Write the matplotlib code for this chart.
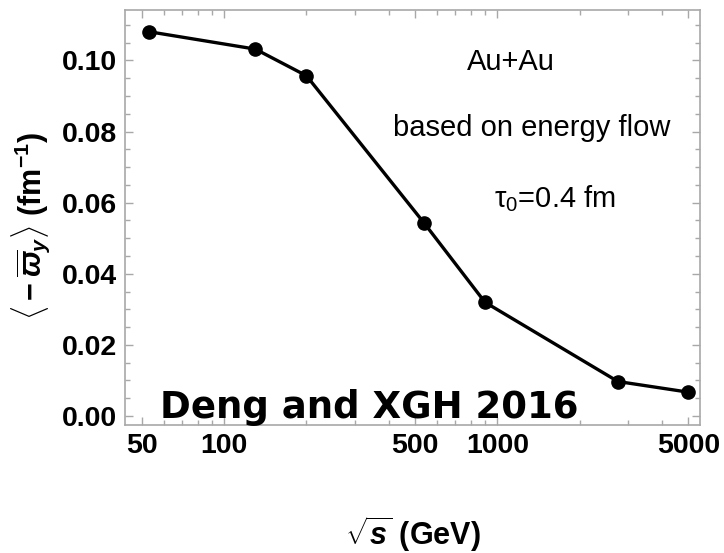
import numpy as np
import matplotlib
matplotlib.use("Agg")
import matplotlib.pyplot as plt
from matplotlib.ticker import FixedLocator, MultipleLocator, NullFormatter

# vorticity vs collision energy
sqrt_s = [53, 130, 200, 540, 900, 2760, 5000]
omega_y = [0.1081, 0.1032, 0.0957, 0.0542, 0.0320, 0.0097, 0.0067]

x_major = [50, 100, 500, 1000, 5000]
x_minor = [60, 70, 80, 90, 200, 300, 400, 600, 700, 800, 900, 2000, 3000, 4000]
y_major = [0.00, 0.02, 0.04, 0.06, 0.08, 0.10]
y_major_labels = ["0.00", "0.02", "0.04", "0.06", "0.08", "0.10"]

plt.rcParams['mathtext.fontset'] = 'custom'
plt.rcParams['mathtext.rm'] = 'Liberation Sans:bold'
plt.rcParams['mathtext.it'] = 'Liberation Sans:italic:bold'
plt.rcParams['mathtext.bf'] = 'Liberation Sans:bold'

sans = "Liberation Sans"
grey = "#a8a8a8"

fig = plt.figure(figsize=(7.24, 5.53), dpi=100)
ax = fig.add_axes([0.1733, 0.2315, 0.7942, 0.7504])

ax.plot(sqrt_s, omega_y, color="black", lw=2.4, marker="o", ms=9.5)

ax.set_xscale("log")
ax.set_xlim(43.5, 5535)
ax.set_ylim(-0.00253, 0.1142)

ax.xaxis.set_major_locator(FixedLocator(x_major))
ax.xaxis.set_minor_locator(FixedLocator(x_minor))
ax.xaxis.set_minor_formatter(NullFormatter())
ax.set_xticklabels([str(v) for v in x_major])
ax.set_yticks(y_major)
ax.set_yticklabels(y_major_labels)
ax.yaxis.set_minor_locator(MultipleLocator(0.005))

for lab in ax.get_xticklabels() + ax.get_yticklabels():
    lab.set_fontfamily(sans)
    lab.set_fontweight("bold")
    lab.set_fontsize(20.5)

ax.tick_params(which="both", direction="in", top=True, right=True, color=grey, width=1)
ax.tick_params(which="major", length=6, pad=6)
ax.tick_params(which="minor", length=3.5)
for s in ax.spines.values():
    s.set_color(grey)
    s.set_linewidth(1.2)

ax.set_ylabel(r"$\langle -\overline{\varpi}_y\rangle$ (fm$^{-1}$)", fontsize=22,
              fontfamily=sans, fontweight="bold", va="center")
ax.yaxis.set_label_coords(-0.164, 0.48)
ax.set_xlabel(r"$\sqrt{s}$ (GeV)", fontsize=22, fontfamily=sans,
              fontweight="bold", va="baseline")
ax.xaxis.set_label_coords(0.5, -0.289)

ax.text(0.67, 0.875, "Au+Au", transform=ax.transAxes, ha="center", va="center",
        fontsize=21, fontfamily=sans)
ax.text(0.707, 0.715, "based on energy flow", transform=ax.transAxes, ha="center",
        va="center", fontsize=21, fontfamily=sans)
ax.text(0.747, 0.545, r"$\mathregular{\tau_0}$=0.4 fm", transform=ax.transAxes,
        ha="center", va="center", fontsize=21, fontfamily=sans)

ax.text(0.06, 0.016, "Deng and XGH 2016", transform=ax.transAxes, ha="left",
        va="baseline", fontsize=26.7, fontweight="bold", fontfamily="DejaVu Sans")

fig.savefig("out.png", dpi=100)
